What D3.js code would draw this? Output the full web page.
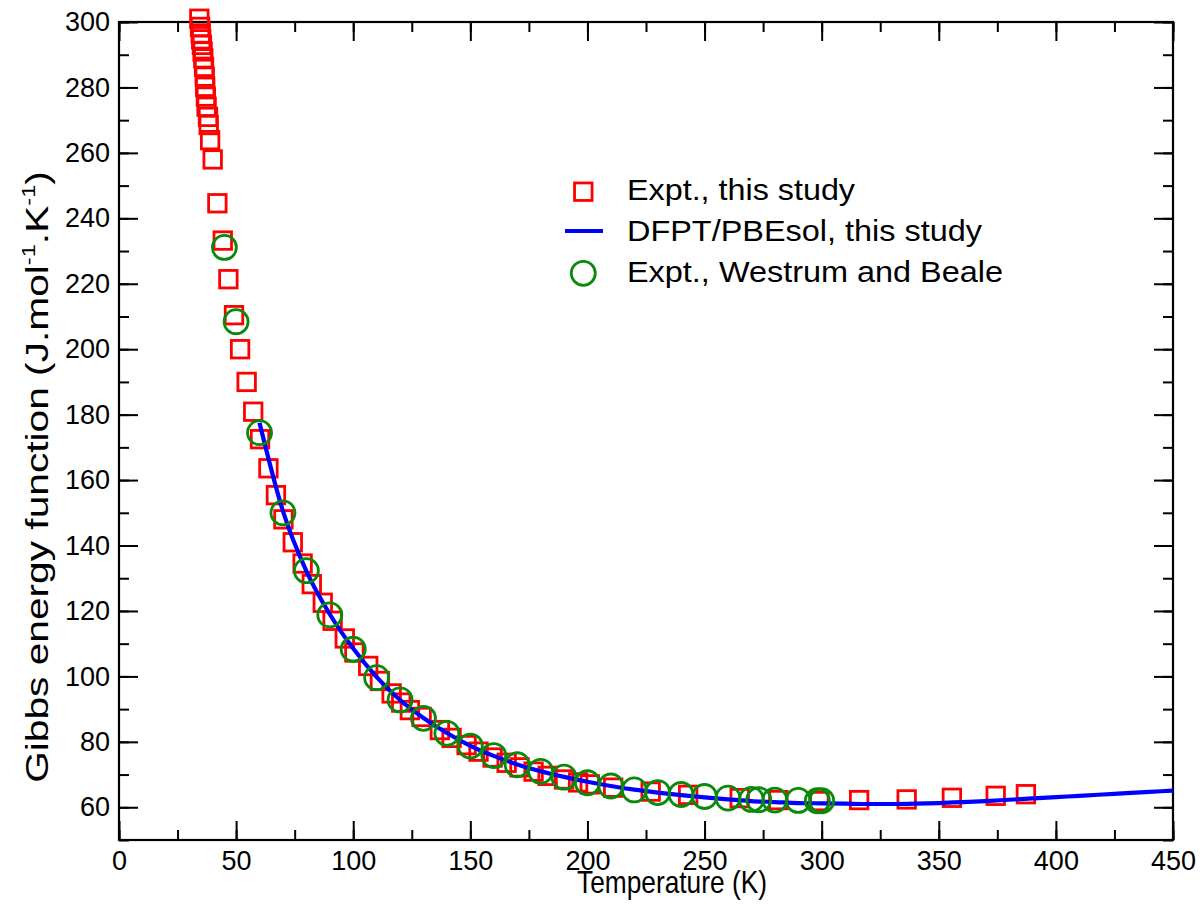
<!DOCTYPE html>
<html>
<head>
<meta charset="utf-8">
<script src="https://cdn.jsdelivr.net/npm/d3@7"></script>
<style>
html,body{margin:0;padding:0;background:#fff;}
svg{display:block;font-family:"Liberation Sans",Arial,Helvetica,sans-serif;}
</style>
</head>
<body>
<svg id="chart" width="1203" height="915"></svg>
<script>
// Experimental data, this study (red squares)
const exptT = [34.3,34.6,34.9,35.1,35.4,35.7,36.0,36.3,36.6,36.8,37.1,37.4,38.0,38.3,38.9,40.0,
  42.0,44.3,46.7,49.1,51.7,54.5,57.3,60.2,63.8,67.0,70.2,74.2,78.4,82.3,87.0,91.2,96.4,100.5,
  106.4,111.4,116.4,120.5,124.2,129.2,137.0,142.0,148.4,153.5,159.5,165.5,171.0,177.0,183.0,
  190.0,196.0,201.0,211.0,227.0,243.0,265.0,281.5,299.0,316.0,336.3,355.6,374.3,387.2];
const exptG = [301.0,298.5,296.5,294.7,293.0,291.0,288.9,286.3,283.3,280.2,277.2,274.1,271.0,268.5,263.9,258.0,
  244.6,233.2,221.4,210.4,200.0,190.0,180.9,172.5,163.6,155.4,148.0,141.0,134.5,128.2,122.5,117.0,111.6,107.3,
  103.2,98.6,94.8,92.0,89.7,87.6,83.6,81.2,79.0,77.0,75.2,73.6,72.2,70.9,69.6,
  68.5,67.6,67.0,66.0,64.8,63.8,62.8,62.2,61.9,62.2,62.4,62.9,63.5,64.0];

// DFPT/PBEsol calculation (blue line)
const dfptT = [60,70,80,90,100,110,120,130,140,150,160,170,180,190,200,210,220,230,240,250,
  260,270,280,290,300,310,320,330,340,350,360,370,380,390,400,410,420,430,440,450];
const dfptG = [177.5,150.5,132.2,119.0,108.5,99.8,92.8,87.3,82.7,78.8,75.7,73.1,71.0,69.3,67.8,66.5,65.4,64.5,63.7,63.0,
  62.4,61.9,61.6,61.3,61.2,61.1,61.0,61.0,61.1,61.3,61.6,61.9,62.3,62.7,63.1,63.5,63.9,64.3,64.7,65.1];

// Westrum and Beale (green circles)
const wbT = [45,50,60,70,80,90,100,110,120,130,140,150,160,170,180,190,200,210,220,230,240,250,
  260,270,273.15,280,290,298.15,300];
const wbG = [231.1,208.4,174.5,150.0,132.3,118.8,108.3,99.6,92.8,87.2,82.6,78.7,75.8,73.0,71.0,69.2,67.5,66.5,65.3,64.5,63.9,63.3,
  62.8,62.4,62.3,62.2,62.1,62.0,62.0];

const xTicks = [0,50,100,150,200,250,300,350,400,450];
const yTicks = [60,80,100,120,140,160,180,200,220,240,260,280,300];
const legendLabels = ["Expt., this study","DFPT/PBEsol, this study","Expt., Westrum and Beale"];

const svg = d3.select("#chart");
const L = 119, R = 1173, T = 22, B = 840;
const x = d3.scaleLinear().domain([0,450]).range([L,R]);
const y = d3.scaleLinear().domain([50,300]).range([B,T]);

const red = "#ff0000", blue = "#0000ff", green = "#0a8a0a";
const FONT = "Liberation Sans, Arial, sans-serif";

// Ticks (inside) on all four sides
const xMinor = d3.range(0,451,25), yMinor = d3.range(50,301,10);
const majorLen = 19, minorLen = 10;
function tickSet(g, axisGen){ g.call(axisGen); g.select(".domain").remove(); g.selectAll("line").attr("stroke","#000").attr("stroke-width",2); }

const axB = svg.append("g").attr("transform",`translate(0,${B})`);
tickSet(axB, d3.axisBottom(x).tickValues(xMinor).tickSize(-minorLen).tickFormat(""));
const axBM = svg.append("g").attr("transform",`translate(0,${B})`);
tickSet(axBM, d3.axisBottom(x).tickValues(xTicks).tickSize(-majorLen).tickPadding(11).tickFormat(d3.format("d")));
axBM.selectAll("text").attr("font-size",27).attr("fill","#000").attr("font-family",FONT);

const axT = svg.append("g").attr("transform",`translate(0,${T})`);
tickSet(axT, d3.axisTop(x).tickValues(xMinor).tickSize(-minorLen).tickFormat(""));
const axTM = svg.append("g").attr("transform",`translate(0,${T})`);
tickSet(axTM, d3.axisTop(x).tickValues(xTicks).tickSize(-majorLen).tickFormat(""));

const axL = svg.append("g").attr("transform",`translate(${L},0)`);
tickSet(axL, d3.axisLeft(y).tickValues(yMinor).tickSize(-minorLen).tickFormat(""));
const axLM = svg.append("g").attr("transform",`translate(${L},0)`);
tickSet(axLM, d3.axisLeft(y).tickValues(yTicks).tickSize(-majorLen).tickPadding(9).tickFormat(d3.format("d")));
axLM.selectAll("text").attr("font-size",27).attr("fill","#000").attr("font-family",FONT);

const axR = svg.append("g").attr("transform",`translate(${R},0)`);
tickSet(axR, d3.axisRight(y).tickValues(yMinor).tickSize(-minorLen).tickFormat(""));
const axRM = svg.append("g").attr("transform",`translate(${R},0)`);
tickSet(axRM, d3.axisRight(y).tickValues(yTicks).tickSize(-majorLen).tickFormat(""));

// Frame
svg.append("rect").attr("x",L).attr("y",T).attr("width",R-L).attr("height",B-T)
  .attr("fill","none").attr("stroke","#000").attr("stroke-width",2.2);

// Red squares
const sq = 17.5;
svg.append("g").selectAll("rect").data(exptT.map((t,i)=>[t,exptG[i]])).join("rect")
  .attr("x",d=>x(d[0])-sq/2).attr("y",d=>y(d[1])-sq/2).attr("width",sq).attr("height",sq)
  .attr("fill","none").attr("stroke",red).attr("stroke-width",2.8);

// Blue line
const line = d3.line().x(d=>x(d[0])).y(d=>y(d[1])).curve(d3.curveMonotoneX);
svg.append("path").datum(dfptT.map((t,i)=>[t,dfptG[i]])).attr("d",line)
  .attr("fill","none").attr("stroke",blue).attr("stroke-width",4.2);

// Green circles
svg.append("g").selectAll("circle").data(wbT.map((t,i)=>[t,wbG[i]])).join("circle")
  .attr("cx",d=>x(d[0])).attr("cy",d=>y(d[1])).attr("r",12)
  .attr("fill","none").attr("stroke",green).attr("stroke-width",2.8);

// Helper: stretch a text horizontally (in its own frame) to a target width
function fitWidth(sel, cx, cy, rot, target){
  const w = sel.node().getBBox().width;
  const k = target / w;
  sel.attr("transform",`translate(${cx},${cy}) rotate(${rot}) scale(${k},1)`);
}

// Axis titles
const xl = svg.append("text").attr("text-anchor","middle").attr("font-size",31)
  .attr("font-family",FONT).text("Temperature (K)");
fitWidth(xl, 672, 893, 0, 190);

const yl = svg.append("text").attr("text-anchor","middle").attr("font-size",31).attr("font-family",FONT);
yl.append("tspan").text("Gibbs energy function (J.mol");
yl.append("tspan").attr("dy",-13).attr("font-size",18).text("-1");
yl.append("tspan").attr("dy",13).text(".K");
yl.append("tspan").attr("dy",-13).attr("font-size",18).text("-1");
yl.append("tspan").attr("dy",13).text(")");
fitWidth(yl, 48, 477, -90, 612);

// Legend
const lg = svg.append("g");
lg.append("rect").attr("x",583.3-sq/2).attr("y",191.7-sq/2).attr("width",sq).attr("height",sq)
  .attr("fill","none").attr("stroke",red).attr("stroke-width",2.8);
lg.append("line").attr("x1",565).attr("x2",603).attr("y1",231).attr("y2",231)
  .attr("stroke",blue).attr("stroke-width",4.2);
lg.append("circle").attr("cx",583.3).attr("cy",273.3).attr("r",12)
  .attr("fill","none").attr("stroke",green).attr("stroke-width",2.8);
const ly = [200, 241, 282];
const lw = [228, 355, 376];
lg.selectAll("text.leg").data(legendLabels).join("text").attr("class","leg")
  .attr("x",627).attr("y",(d,i)=>ly[i]).attr("font-size",30).attr("font-family",FONT)
  .attr("textLength",(d,i)=>lw[i]).attr("lengthAdjust","spacingAndGlyphs").text(d=>d);
</script>
</body>
</html>
